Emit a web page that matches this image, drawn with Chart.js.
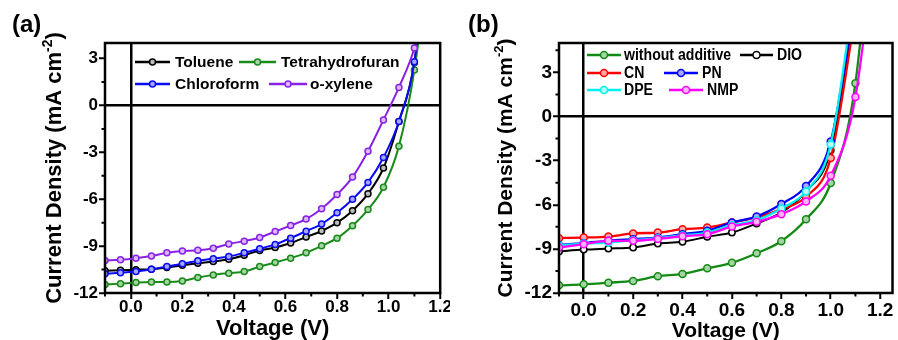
<!DOCTYPE html>
<html>
<head>
<meta charset="utf-8">
<script src="https://cdn.jsdelivr.net/npm/chart.js@4.4.1/dist/chart.umd.min.js"></script>
<style>
  html, body { margin: 0; padding: 0; background: #fff; }
  #wrap { position: relative; width: 898px; height: 340px; overflow: hidden; }
  canvas { position: absolute; top: 0; }
  #chartA { left: 0; }
  #chartB { left: 450px; }
</style>
</head>
<body>
<div id="wrap">
  <canvas id="chartA" width="450" height="340"></canvas>
  <canvas id="chartB" width="448" height="340"></canvas>
</div>
<script>
// ---- panel (a): processing solvent ----
// last voltage point sits above the frame, it only carries the curve out of the plot
const voltageA = [-0.10, -0.04, 0.02, 0.08, 0.14, 0.20, 0.26, 0.32, 0.38, 0.44, 0.50,
                  0.56, 0.62, 0.68, 0.74, 0.80, 0.86, 0.92, 0.98, 1.04, 1.10, 1.16];
const toluene   = [-10.57, -10.54, -10.51, -10.48, -10.37, -10.23, -10.10, -9.98, -9.84, -9.58, -9.28,
                   -9.09, -8.80, -8.42, -8.03, -7.50, -6.73, -5.64, -4.00, -1.02, 2.76, 12];
const thf       = [-11.46, -11.40, -11.33, -11.29, -11.29, -11.23, -11.01, -10.84, -10.73, -10.63, -10.31,
                   -10.05, -9.77, -9.43, -8.98, -8.49, -7.69, -6.66, -5.23, -2.60, 2.27, 10];
const chloroform = [-10.76, -10.71, -10.63, -10.48, -10.30, -10.13, -9.94, -9.81, -9.66, -9.43, -9.17,
                    -8.89, -8.49, -8.04, -7.59, -6.87, -6.00, -4.92, -3.33, -1.02, 2.80, 12];
const oxylene   = [-9.92, -9.87, -9.77, -9.63, -9.43, -9.31, -9.27, -9.13, -8.86, -8.68, -8.45,
                   -8.07, -7.68, -7.27, -6.61, -5.70, -4.58, -2.93, -0.92, 1.16, 3.68, 8];
const namesA = ['Toluene', 'Tetrahydrofuran', 'Chloroform', 'o-xylene'];
const xTicks = [0, 0.2, 0.4, 0.6, 0.8, 1.0, 1.2];
const xMinor = [-0.1, 0.1, 0.3, 0.5, 0.7, 0.9, 1.1];
const yTicksA = [-12, -9, -6, -3, 0, 3];
const yMinorA = [-10.5, -7.5, -4.5, -1.5, 1.5];

// ---- panel (b): additives ----
const voltageB = [-0.1, 0.0, 0.1, 0.2, 0.3, 0.4, 0.5, 0.6, 0.7, 0.8, 0.9, 1.0, 1.1, 1.2];
const noAdditive = [-11.48, -11.41, -11.30, -11.18, -10.86, -10.70, -10.32, -9.95, -9.30, -8.48, -6.99, -4.52, 2.27, 20];
const dio = [-9.18, -9.05, -8.98, -8.91, -8.64, -8.52, -8.18, -7.89, -7.27, -6.52, -5.10, -2.30, 7.5, null];
const cn  = [-8.27, -8.23, -8.16, -7.95, -7.89, -7.66, -7.55, -7.20, -6.86, -6.30, -5.45, -2.82, 7.0, null];
const pn  = [-8.73, -8.61, -8.45, -8.34, -8.23, -8.00, -7.77, -7.20, -6.80, -5.95, -4.73, -1.70, 8.0, null];
const dpe = [-8.77, -8.64, -8.57, -8.41, -8.27, -8.09, -7.89, -7.39, -7.05, -6.25, -5.09, -1.90, 9.0, null];
const nmp = [-8.91, -8.68, -8.45, -8.45, -8.32, -8.14, -8.00, -7.48, -7.16, -6.64, -5.77, -4.02, 1.32, 15];
const namesB = ['without additive', 'DIO', 'CN', 'PN', 'DPE', 'NMP'];
const yTicksB = [-12, -9, -6, -3, 0, 3];
const yMinorB = [-10.5, -7.5, -4.5, -1.5, 1.5, 4.5];

const FONT = '"Liberation Sans", Arial, Helvetica, sans-serif';

function makeDataset(label, xs, ys, color, fill, width, radius) {
  return {
    label,
    data: xs.map((x, i) => ({ x, y: ys[i] })),
    borderColor: color,
    backgroundColor: fill,
    pointBackgroundColor: fill,
    pointBorderColor: color,
    pointBorderWidth: 1.5,
    pointRadius: radius,
    borderWidth: width,
    cubicInterpolationMode: 'monotone',
    clip: 0
  };
}

function drawText(ctx, text, x, y, font, sx) {
  ctx.save();
  ctx.font = font;
  ctx.translate(x, y);
  ctx.scale(sx || 1, 1);
  ctx.fillText(text, 0, 0);
  ctx.restore();
}

// frame, minor ticks, titles, legend, panel letter
const decorPlugin = {
  id: 'decor',
  afterDraw(chart, args, o) {
    const ctx = chart.ctx;
    const a = chart.chartArea;
    const xs = chart.scales.x, ys = chart.scales.y;
    ctx.save();
    ctx.strokeStyle = '#000';
    ctx.fillStyle = '#000';

    ctx.lineWidth = 2.5;
    ctx.strokeRect(a.left, a.top, a.right - a.left, a.bottom - a.top);

    ctx.lineWidth = 2;
    ctx.beginPath();
    o.xMinor.forEach(v => {
      const p = xs.getPixelForValue(v);
      ctx.moveTo(p, a.bottom); ctx.lineTo(p, a.bottom + 3.5);
    });
    o.yMinor.forEach(v => {
      const p = ys.getPixelForValue(v);
      ctx.moveTo(a.left, p); ctx.lineTo(a.left - 3.5, p);
    });
    ctx.stroke();

    // x title
    ctx.textAlign = 'center';
    ctx.textBaseline = 'alphabetic';
    ctx.font = `bold ${o.xTitleSize}px ${FONT}`;
    ctx.fillText('Voltage (V)', (a.left + a.right) / 2, o.xTitleY);

    // y title with superscript
    const main = 'Current Density (mA cm', sup = '-2', close = ')';
    const big = `bold ${o.yTitleSize}px ${FONT}`;
    const small = `bold ${Math.round(o.yTitleSize * 0.62)}px ${FONT}`;
    ctx.font = big;
    const wMain = ctx.measureText(main).width, wClose = ctx.measureText(close).width;
    ctx.font = small;
    const wSup = ctx.measureText(sup).width;
    const total = wMain + wSup + wClose;
    ctx.translate(o.yTitleX, (a.top + a.bottom) / 2);
    ctx.rotate(-Math.PI / 2);
    ctx.textAlign = 'left';
    const x0 = -total / 2;
    ctx.font = big; ctx.fillText(main, x0, 0);
    ctx.font = small; ctx.fillText(sup, x0 + wMain, -o.yTitleSize * 0.42);
    ctx.font = big; ctx.fillText(close, x0 + wMain + wSup, 0);
    ctx.setTransform(1, 0, 0, 1, 0, 0);

    // panel letter
    ctx.textAlign = 'left';
    ctx.font = `bold 24px ${FONT}`;
    ctx.fillText(o.letter, o.letterX, 32);

    // legend
    ctx.textBaseline = 'middle';
    o.legend.forEach(it => {
      const ds = chart.data.datasets.find(d => d.label === it.label);
      ctx.strokeStyle = ds.borderColor;
      ctx.lineWidth = 2.5;
      ctx.beginPath();
      ctx.moveTo(it.x1, it.y); ctx.lineTo(it.x2, it.y);
      ctx.stroke();
      ctx.beginPath();
      ctx.arc((it.x1 + it.x2) / 2, it.y, o.legendRadius, 0, Math.PI * 2);
      ctx.fillStyle = ds.pointBackgroundColor;
      ctx.fill();
      ctx.lineWidth = 1.5;
      ctx.stroke();
      ctx.fillStyle = '#000';
      drawText(ctx, it.label, it.tx, it.y + 1, `bold ${o.legendSize}px ${FONT}`, o.legendScale);
    });
    ctx.restore();
  }
};

function makeOptions(cfg) {
  return {
    responsive: false,
    animation: false,
    events: [],
    layout: { padding: { left: 0, top: 43, right: cfg.padRight, bottom: 0 } },
    plugins: {
      legend: { display: false },
      tooltip: { enabled: false },
      decor: cfg.decor
    },
    scales: {
      x: {
        type: 'linear',
        min: -0.1,
        max: cfg.xMax,
        afterBuildTicks: s => { s.ticks = xTicks.map(v => ({ value: v })); },
        afterFit: s => { s.height = 47; },
        border: { display: false },
        grid: {
          color: c => (c.tick && c.tick.value === 0 ? '#000' : 'rgba(0,0,0,0)'),
          lineWidth: 2.5,
          drawTicks: true,
          tickLength: 6,
          tickColor: '#000',
          tickWidth: 2
        },
        ticks: {
          autoSkip: false,
          maxRotation: 0,
          padding: cfg.xPad,
          color: '#000',
          font: { family: FONT, size: cfg.tickSize, weight: 'bold' },
          callback: v => Number(v).toFixed(1)
        }
      },
      y: {
        type: 'linear',
        min: -12,
        max: cfg.yMax,
        afterBuildTicks: s => { s.ticks = cfg.yTicks.map(v => ({ value: v })); },
        afterFit: s => { s.width = cfg.yWidth; },
        border: { display: false },
        grid: {
          color: c => (c.tick && c.tick.value === 0 ? '#000' : 'rgba(0,0,0,0)'),
          lineWidth: 2.5,
          drawTicks: true,
          tickLength: 6,
          tickColor: '#000',
          tickWidth: 2
        },
        ticks: {
          autoSkip: false,
          padding: 1,
          color: '#000',
          font: { family: FONT, size: cfg.tickSize, weight: 'bold' },
          callback: v => String(v)
        }
      }
    }
  };
}

// Origin plots the last series on top, so datasets are listed in reverse
new Chart(document.getElementById('chartA'), {
  type: 'line',
  data: {
    datasets: [
      makeDataset(namesA[3], voltageA, oxylene, '#8a22e6', '#d9b8f7', 2, 3),
      makeDataset(namesA[2], voltageA, chloroform, '#0a0af5', '#a8a8fb', 2, 3),
      makeDataset(namesA[1], voltageA, thf, '#1a8a1a', '#a6d4a6', 2, 3),
      makeDataset(namesA[0], voltageA, toluene, '#000000', '#bdbdbd', 2, 3)
    ]
  },
  options: makeOptions({
    padRight: 7, xMax: 1.2, yMax: 4, yTicks: yTicksA, yWidth: 105, tickSize: 17, xPad: -2,
    decor: {
      xMinor: xMinor, yMinor: yMinorA,
      xTitleSize: 22, xTitleY: 335,
      yTitleSize: 22, yTitleX: 61,
      letter: '(a)', letterX: 12,
      legendSize: 15.5, legendScale: 1, legendRadius: 3,
      legend: [
        { label: namesA[0], x1: 135, x2: 170, tx: 175, y: 62 },
        { label: namesA[1], x1: 239, x2: 276, tx: 281, y: 62 },
        { label: namesA[2], x1: 135, x2: 170, tx: 175, y: 84 },
        { label: namesA[3], x1: 269, x2: 307, tx: 310, y: 84 }
      ]
    }
  }),
  plugins: [decorPlugin]
});

new Chart(document.getElementById('chartB'), {
  type: 'line',
  data: {
    datasets: [
      makeDataset(namesB[5], voltageB, nmp, '#ff00ff', '#ffb3ff', 2.3, 3.5),
      makeDataset(namesB[4], voltageB, dpe, '#00f0f0', '#b3ffff', 2.3, 3.5),
      makeDataset(namesB[3], voltageB, pn, '#0000ff', '#a8a8ff', 2.3, 3.5),
      makeDataset(namesB[2], voltageB, cn, '#ff0000', '#ffaaaa', 2.3, 3.5),
      makeDataset(namesB[1], voltageB, dio, '#000000', '#ffffff', 2, 3.2),
      makeDataset(namesB[0], voltageB, noAdditive, '#138a13', '#a6d4a6', 2.3, 3.5)
    ]
  },
  options: makeOptions({
    padRight: 2, xMax: 1.25, yMax: 5, yTicks: yTicksB, yWidth: 109, tickSize: 19, xPad: 0,
    decor: {
      xMinor: xMinor, yMinor: yMinorB,
      xTitleSize: 21, xTitleY: 337,
      yTitleSize: 21, yTitleX: 62,
      letter: '(b)', letterX: 18,
      legendSize: 16, legendScale: 0.88, legendRadius: 3.5,
      legend: [
        { label: namesB[0], x1: 137, x2: 171, tx: 174, y: 55 },
        { label: namesB[1], x1: 290, x2: 323, tx: 327, y: 55 },
        { label: namesB[2], x1: 137, x2: 171, tx: 174, y: 73 },
        { label: namesB[3], x1: 214, x2: 248, tx: 252, y: 73 },
        { label: namesB[4], x1: 137, x2: 171, tx: 174, y: 90 },
        { label: namesB[5], x1: 219, x2: 253, tx: 257, y: 90 }
      ]
    }
  }),
  plugins: [decorPlugin]
});
</script>
</body>
</html>
